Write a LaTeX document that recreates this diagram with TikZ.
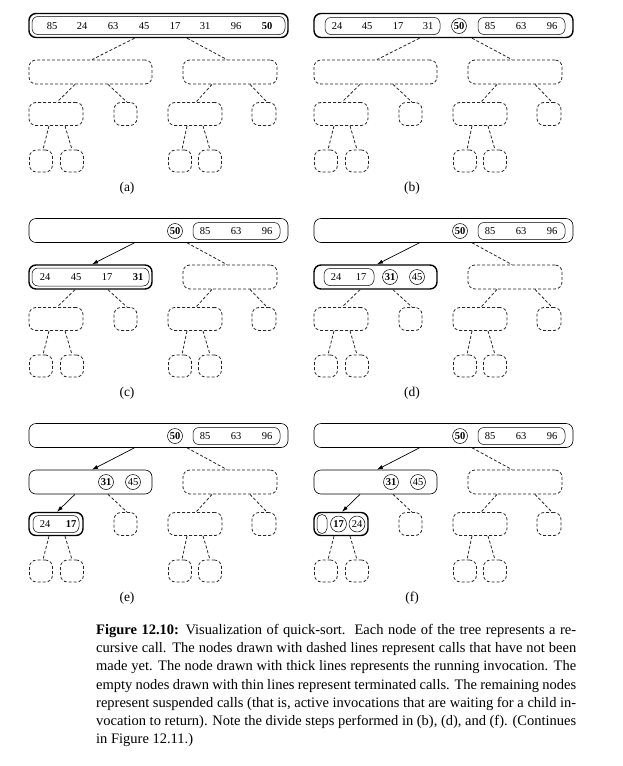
\documentclass[tikz,border=0pt]{standalone}
\usepackage{fontspec}
\setmainfont{Liberation Serif}
\usetikzlibrary{arrows.meta}

\newcommand{\numfont}{\fontsize{10.5}{12}\selectfont}

\tikzset{
    call/.style={rounded corners=7pt, minimum height=24pt, inner sep=0pt},
    todo/.style={call, draw=black!85, dash pattern=on 3pt off 2pt, line width=0.8pt},
    waiting/.style={call, draw, line width=0.6pt},
    running/.style={call, draw, line width=1.4pt},
    seq/.style={draw, line width=0.5pt, rounded corners=6pt, minimum height=17pt, inner sep=0pt},
    piv/.style={draw, circle, line width=0.5pt, minimum size=15pt, inner sep=0pt, font=\numfont},
    num/.style={inner sep=0pt, font=\numfont},
    later/.style={draw=black!85, dash pattern=on 3pt off 2pt, line width=0.8pt},
    made/.style={-{Latex[length=6pt,width=4pt]}, line width=0.7pt},
    lab/.style={inner sep=0pt, font=\fontsize{13.5}{15}\selectfont}
}

\begin{document}
\begin{tikzpicture}[x=1pt, y=-1pt]

    \useasboundingbox (0,0) rectangle (623,766);

    % the call tree of each step
    \foreach \p/\dx/\dy/\sr/\sl/\sll/\er/\el in {a/0/0/running/todo/todo/later/later,
        b/285/0/running/todo/todo/later/later,
        c/0/205/waiting/running/todo/made/later,
        d/285/205/waiting/running/todo/made/later,
        e/0/410/waiting/waiting/running/made/made,
        f/285/410/waiting/waiting/running/made/made}{
    \begin{scope}[shift={(\dx,\dy)}]
        \node[\sr, minimum width=259pt] (\p-root) at (158.5,25.5) {};
        \node[\sl, minimum width=123pt] (\p-l) at (90.5,72) {};
        \node[todo, minimum width=94pt] (\p-r) at (230,72) {};
        \node[\sll, minimum width=54pt, minimum height=23pt] (\p-ll) at (56,114) {};
        \node[todo, minimum width=23pt, minimum height=23pt] (\p-lr) at (125.5,114) {};
        \node[todo, minimum width=54pt, minimum height=23pt] (\p-rl) at (195,114) {};
        \node[todo, minimum width=24pt, minimum height=23pt] (\p-rr) at (264,114) {};
        \foreach \n/\x in {lll/41, llr/72, rll/180, rlr/210}
            \node[todo, minimum width=23pt, minimum height=22pt] (\p-\n) at (\x,161) {};
        \node[lab] (\p-lab) at (127,188) {(\p)};

        \draw[\er] ([xshift=-24pt]\p-root.south) -- ([xshift=1.5pt]\p-l.north);
        \draw[later] ([xshift=28.5pt]\p-root.south) -- ([xshift=-3pt]\p-r.north);
        \draw[\el] ([xshift=-15.5pt]\p-l.south) -- ([xshift=1pt]\p-ll.north);
        \draw[later] ([xshift=17.5pt]\p-l.south) -- ([xshift=1.5pt]\p-lr.north);
        \draw[later] ([xshift=-18pt]\p-r.south) -- ([xshift=1pt]\p-rl.north);
        \draw[later] ([xshift=20pt]\p-r.south) -- ([xshift=3pt]\p-rr.north);
        \draw[later] ([xshift=-7pt]\p-ll.south) -- ([xshift=2pt]\p-lll.north);
        \draw[later] ([xshift=9pt]\p-ll.south) -- (\p-llr.north);
        \draw[later] ([xshift=-8pt]\p-rl.south) -- ([xshift=2pt]\p-rll.north);
        \draw[later] ([xshift=8pt]\p-rl.south) -- (\p-rlr.north);
    \end{scope}
    }

    % (a) whole sequence, pivot 50
    \node[seq, minimum width=253pt, minimum height=18pt] (a-seq) at (158.5,25.5) {};
    \foreach \v/\x [count=\i] in {85/52, 24/82, 63/113, 45/144, 17/175, 31/205, 96/236, \textbf{50}/267}
        \node[num] (a-n\i) at (\x,26) {\v};

    % (b) divide step at the root
    \begin{scope}[shift={(285,0)}]
        \node[seq, minimum width=115pt] (b-lo) at (97.5,26) {};
        \foreach \v/\x [count=\i] in {24/52, 45/82, 17/113, 31/143}
            \node[num] (b-lo\i) at (\x,26) {\v};
        \node[piv] (b-piv) at (174,26) {\textbf{50}};
        \node[seq, minimum width=87pt] (b-hi) at (236.5,26) {};
        \foreach \v/\x [count=\i] in {85/205, 63/236, 96/267}
            \node[num] (b-hi\i) at (\x,26) {\v};
    \end{scope}

    % suspended root in (c)--(f)
    \foreach \p/\dx/\dy in {c/0/205, d/285/205, e/0/410, f/285/410}{
    \begin{scope}[shift={(\dx,\dy)}]
        \node[piv] (\p-piv) at (175,26) {\textbf{50}};
        \node[seq, minimum width=87pt] (\p-hi) at (236.5,26) {};
        \foreach \v/\x [count=\i] in {85/205, 63/236, 96/267}
            \node[num] (\p-hi\i) at (\x,26) {\v};
    \end{scope}
    }

    % (c) left call running
    \begin{scope}[shift={(0,205)}]
        \node[seq, minimum width=117pt, minimum height=18pt] (c-seq) at (90.5,72) {};
        \foreach \v/\x [count=\i] in {24/45, 45/76, 17/107, \textbf{31}/138}
            \node[num] (c-n\i) at (\x,72) {\v};
    \end{scope}

    % (d) divide step of the left call
    \begin{scope}[shift={(285,205)}]
        \node[seq, minimum width=50pt] (d-lo) at (64,72) {};
        \node[num] (d-lo1) at (51,72) {24};
        \node[num] (d-lo2) at (76,72) {17};
        \node[piv] (d-piv) at (105,72) {\textbf{31}};
        \node[piv] (d-hi) at (132,72) {45};
    \end{scope}

    % (e) and (f) left call suspended
    \foreach \p/\dx in {e/0, f/285}{
    \begin{scope}[shift={(\dx,410)}]
        \node[piv] (\p-piv2) at (106,72) {\textbf{31}};
        \node[piv] (\p-hi2) at (133,72) {45};
    \end{scope}
    }

    % (e) running call on 24 17
    \begin{scope}[shift={(0,410)}]
        \node[seq, minimum width=46pt] (e-seq) at (56,114) {};
        \node[num] (e-n1) at (45,114) {24};
        \node[num] (e-n2) at (71,114) {\textbf{17}};
    \end{scope}

    % (f) divide step on 24 17
    \begin{scope}[shift={(285,410)}]
        \node[seq, rounded corners=5pt, minimum width=10pt, minimum height=19pt] (f-lo) at (37,114) {};
        \node[piv, minimum size=16pt] (f-piv) at (53.5,114) {\textbf{17}};
        \node[piv, minimum size=16pt] (f-hi) at (72,114) {24};
    \end{scope}

    % caption
    \node[anchor=north west, inner sep=0pt, text width=480pt, align=justify,
        font=\fontsize{14.5}{18.1}\selectfont] (cap) at (96,624.3) {%
        \textbf{Figure 12.10:} Visualization of quick-sort.\ \ Each node of the tree represents a re-\linebreak
        cursive call. The nodes drawn with dashed lines represent calls that have not been\linebreak
        made yet. The node drawn with thick lines represents the running invocation. The\linebreak
        empty nodes drawn with thin lines represent terminated calls. The remaining nodes\linebreak
        represent suspended calls (that is, active invocations that are waiting for a child in-\linebreak
        vocation to return). Note the divide steps performed in (b), (d), and (f). (Continues\linebreak
        in Figure 12.11.)};

\end{tikzpicture}
\end{document}
